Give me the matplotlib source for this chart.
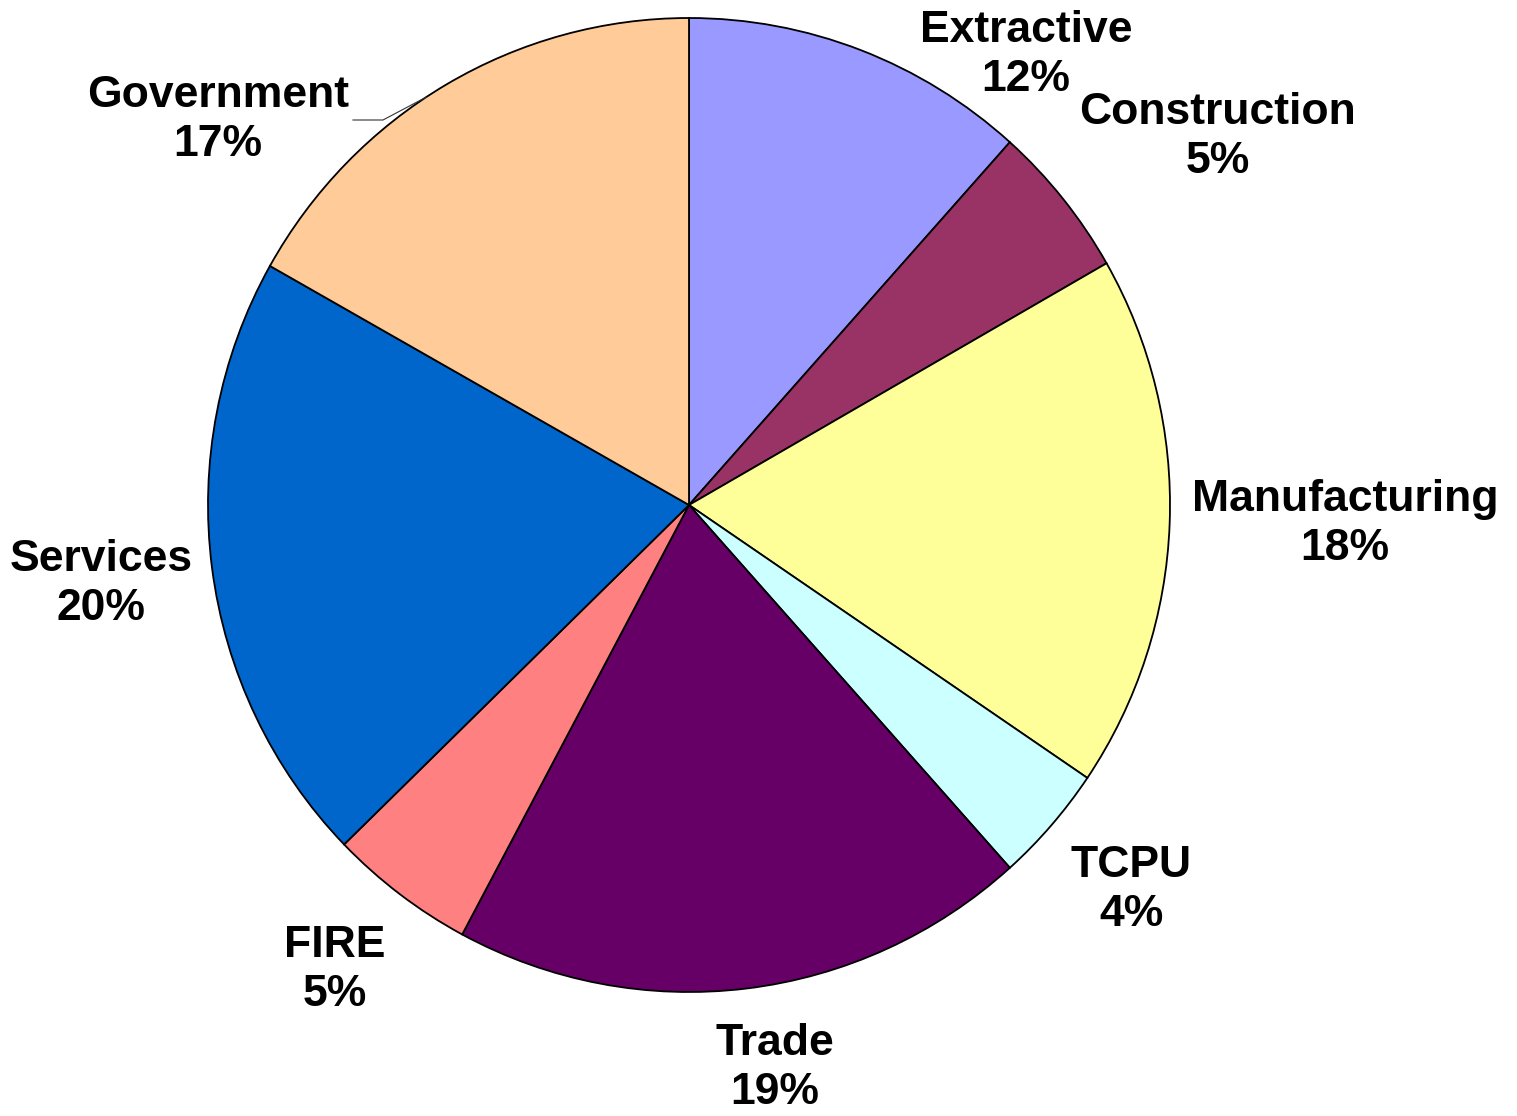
import numpy as np
import matplotlib.pyplot as plt

sectors = ['Extractive', 'Construction', 'Manufacturing', 'TCPU',
           'Trade', 'FIRE', 'Services', 'Government']
shares = [11.6, 5.1, 17.7, 3.9, 19.4, 4.9, 20.4, 16.8]
colors = ['#9999FF', '#993366', '#FFFF99', '#CCFFFF',
          '#660066', '#FF8080', '#0066CC', '#FFCC99']

# label centres in pixels of the 1517x1116 image
label_px = [(1026, 55), (1218, 137), (1345, 524), (1131, 890),
            (775, 1068), (335, 970), (101, 584), (218, 120)]

W, H = 1517, 1116
cx, cy, rx, ry = 689, 505, 481, 487


def to_data(px, py):
    return (px - cx) / rx, (cy - py) / ry


fig = plt.figure(figsize=(W / 100, H / 100), dpi=100)
ax = fig.add_axes([0, 0, 1, 1])
ax.pie(shares, colors=colors, startangle=90, counterclock=False,
       wedgeprops=dict(edgecolor='black', linewidth=1.3))
ax.set_aspect('auto')
ax.set_xlim(to_data(0, 0)[0], to_data(W, 0)[0])
ax.set_ylim(to_data(0, H)[1], to_data(0, 0)[1])
ax.axis('off')

total = sum(shares)
for name, v, (px, py) in zip(sectors, shares, label_px):
    x, y = to_data(px, py)
    ax.text(x, y, f'{name}\n{round(100 * v / total):.0f}%', ha='center',
            va='center', fontsize=32, fontweight='bold',
            family='Liberation Sans', linespacing=1.25)

# leader line for Government label, ending on the arc of its slice
ang = np.deg2rad(90 - 360 * 0.908)
gx, gy = np.cos(ang), np.sin(ang)
lx0, ly = to_data(353, 120)
lx1, _ = to_data(383, 120)
ax.plot([lx0, lx1, gx], [ly, ly, gy], color='#333333', lw=0.8)

fig.savefig('out.png', dpi=100, facecolor='white')
